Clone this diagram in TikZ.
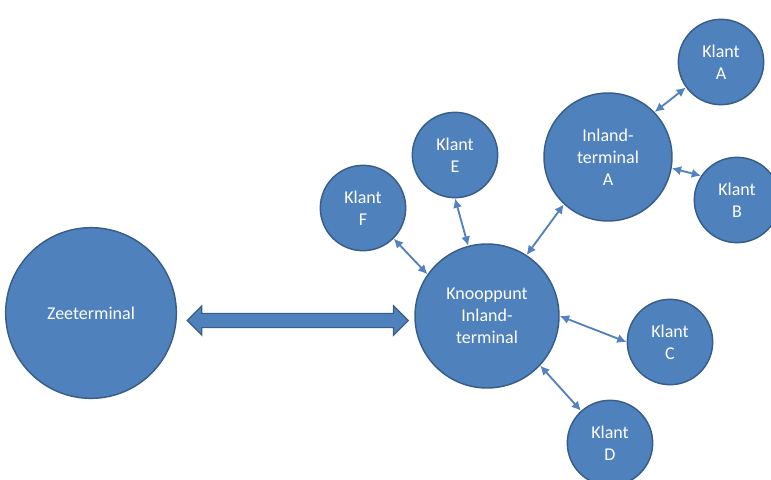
\documentclass[tikz,border=0pt]{standalone}
\usepackage{fontspec}
\setmainfont{Carlito}
\usetikzlibrary{shapes.arrows,arrows.meta,calc}
\definecolor{nodefill}{RGB}{79,129,189}
\definecolor{nodeline}{RGB}{56,93,138}
\definecolor{linkline}{RGB}{84,130,190}

\begin{document}
\begin{tikzpicture}[x=0.75pt, y=-0.75pt,
  terminal/.style={circle, fill=nodefill, draw=nodeline, line width=1.1pt,
    text=white, align=center, inner sep=0pt,
    font=\fontsize{13.5}{16.5}\selectfont},
  klant/.style={terminal, minimum size=64pt},
  link/.style={linkline, line width=1.4pt, {Latex[length=7pt,width=7pt]}-{Latex[length=7pt,width=7pt]}},
  bigarrow/.style={double arrow, fill=nodefill, draw=nodeline, line width=0.9pt,
    inner sep=0pt, inner ysep=4.9pt, minimum height=165.75pt,
    double arrow head extend=5.6pt}]

\useasboundingbox (0,0) rectangle (771,479);

% terminals
\node[terminal, minimum size=128pt] (zee) at (91,313) {Zeeterminal};
\node[terminal, minimum size=108pt] (kn) at (487,316) {Knooppunt\\Inland-\\terminal};
\node[terminal, minimum size=96pt] (ia) at (608,157) {Inland-\\terminal\\A};

% klanten
\node[klant] (ka) at (721,62) {Klant\\A};
\node[klant] (kb) at (737,200) {Klant\\B};
\node[klant] (kc) at (670,342) {Klant\\C};
\node[klant] (kd) at (610,443) {Klant\\D};
\node[klant] (ke) at (455,155) {Klant\\E};
\node[klant] (kf) at (363,208) {Klant\\F};

% dikke pijl
\node[bigarrow] (pijl) at ($(zee.east)!0.5!(kn.west)+(2,6)$) {};

% verbindingen
\draw[link] (ia.44) -- (ka.216);
\draw[link] (ia.350) -- (kb.146);
\draw[link] (kn.57) -- (ia.227);
\draw[link] (kn.0) -- (kc.180);
\draw[link] (kn.317) -- (kd.132);
\draw[link] (kn.105) -- (ke.270);
\draw[link] (kn.145) -- (kf.315);

\end{tikzpicture}
\end{document}
